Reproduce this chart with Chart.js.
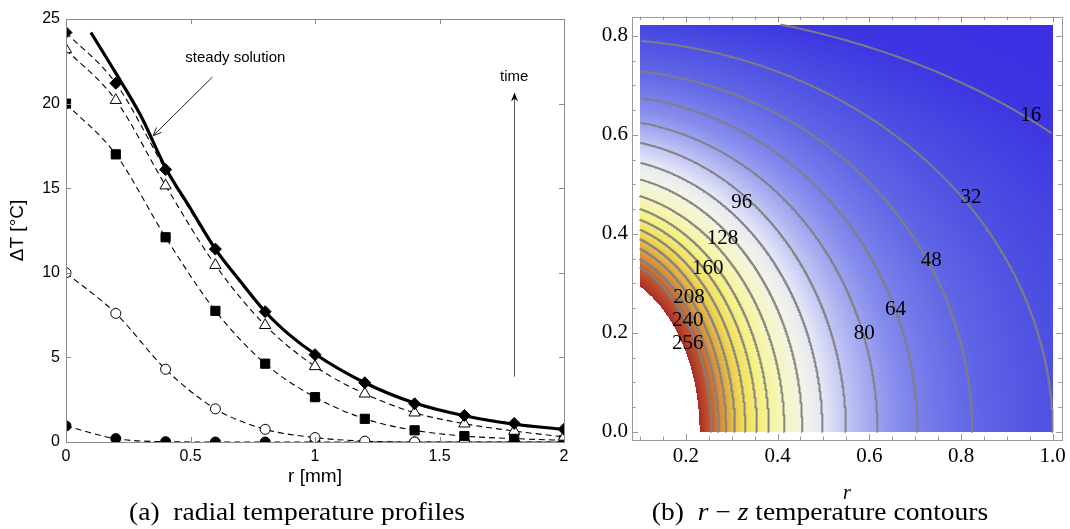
<!DOCTYPE html>
<html>
<head>
<meta charset="utf-8">
<script src="https://cdn.jsdelivr.net/npm/chart.js@4.4.0/dist/chart.umd.min.js"></script>
<style>
    body { margin: 0; background: #fff; width: 1070px; height: 529px; position: relative; overflow: hidden; }
    #graficoA { position: absolute; left: 0; top: 0; }
    #graficoB { position: absolute; left: 580px; top: 0; }
    .legenda {
        position: absolute; top: 499px; white-space: nowrap; line-height: 1;
        font-family: "Liberation Serif", "Times New Roman", serif; font-size: 25px;
        transform: translateX(-50%) scaleX(1.1);
    }
</style>
</head>
<body>
<canvas id="graficoA" width="580" height="529"></canvas>
<canvas id="graficoB" width="490" height="529"></canvas>
<div class="legenda" style="left:297px">(a)&nbsp; radial temperature profiles</div>
<div class="legenda" style="left:820px">(b)&nbsp; <i>r</i> − <i>z</i> temperature contours</div>

<script>
// ---- (a) perfis radiais ----
const raio = [0, 0.2, 0.4, 0.6, 0.8, 1.0, 1.2, 1.4, 1.6, 1.8, 2.0];
const perfilDiamante = [24.2, 21.2, 16.1, 11.4, 7.7, 5.16, 3.5, 2.26, 1.57, 1.1, 0.75];
const perfilTriangulo = [23.2, 20.2, 15.15, 10.45, 6.9, 4.47, 2.85, 1.73, 1.08, 0.65, 0.3];
const perfilQuadrado = [20.0, 17.0, 12.1, 7.75, 4.63, 2.65, 1.37, 0.69, 0.35, 0.2, 0.1];
const perfilCirculo = [10.0, 7.6, 4.3, 1.96, 0.75, 0.26, 0.05, 0, 0, 0, 0];
const perfilInicial = [0.95, 0.2, 0.02, 0, 0, 0, 0, 0, 0, 0, 0];

const raioEstacionario = [0.1, 0.2, 0.3, 0.4, 0.5, 0.6, 0.7, 0.8, 0.9, 1.0, 1.2, 1.4, 1.6, 1.8, 2.0];
const solucaoEstacionaria = [24.2, 21.8, 19.3, 16.2, 13.8, 11.4, 9.5, 7.7, 6.3, 5.2, 3.5, 2.3, 1.55, 1.05, 0.75];

// ---- (b) contornos r-z ----
const niveis = [16, 32, 48, 64, 80, 96, 112, 128, 144, 160, 176, 192, 208, 224, 240, 256];
// semi-eixos de cada isoterma (em r sobre z=0 e em z sobre r=0)
const semiEixoR = [1.40, 1.0, 0.825, 0.705, 0.618, 0.549, 0.498, 0.454, 0.415, 0.381, 0.355, 0.330, 0.307, 0.288, 0.272, 0.256];
const semiEixoZ = [0.86, 0.794, 0.734, 0.682, 0.633, 0.594, 0.555, 0.523, 0.491, 0.467, 0.447, 0.429, 0.412, 0.395, 0.376, 0.362];
const nivelLimite = 272;   // acima disso a regiao fica em branco
const limiteR = 0.23;
const limiteZ = 0.326;

const rotulos = ['16', '32', '48', '64', '80', '96', '128', '160', '208', '240', '256'];
const rotuloR = [0.952, 0.822, 0.735, 0.657, 0.589, 0.322, 0.280, 0.248, 0.207, 0.204, 0.204];
const rotuloZ = [0.639, 0.473, 0.346, 0.247, 0.198, 0.463, 0.390, 0.330, 0.272, 0.225, 0.178];

const ticksR = [0.2, 0.4, 0.6, 0.8, 1.0];
const ticksZ = [0.0, 0.2, 0.4, 0.6, 0.8];

// escala de cores (temperatura -> rgb)
const coresNivel = [10, 30, 50, 70, 90, 110, 125, 145, 170, 195, 215, 240, 260, 275];
const coresRGB = [
    [56, 44, 226], [76, 78, 226], [100, 106, 230], [132, 138, 236], [180, 185, 242],
    [228, 230, 246], [242, 243, 232], [246, 246, 190], [245, 240, 130], [240, 220, 90],
    [226, 180, 70], [210, 130, 56], [188, 80, 46], [165, 35, 35]
];

const dominio = { rMin: 0.1, rMax: 1.0, zMin: 0, zMax: 0.823 };

const fonteSans = '"Liberation Sans", Arial, sans-serif';
const fonteSerif = '"Liberation Serif", "Times New Roman", serif';

function pares(xs, ys) {
    return xs.map((x, i) => ({ x: x, y: ys[i] }));
}

function serie(valores, estilo, fundo, raioPonto) {
    return {
        data: pares(raio, valores),
        borderColor: '#000',
        borderWidth: 1.1,
        borderDash: [6, 4],
        cubicInterpolationMode: 'monotone',
        pointStyle: estilo,
        pointRadius: raioPonto,
        pointBackgroundColor: fundo,
        pointBorderColor: '#000',
        pointBorderWidth: 1
    };
}

// moldura com ticks para dentro nos quatro lados
function moldura(cor, tamMaior, tamMenor, passoMenorX, passoMenorY) {
    return {
        id: 'moldura',
        afterDraw(chart) {
            const { ctx, chartArea: a, scales: { x, y } } = chart;
            ctx.save();
            ctx.strokeStyle = cor;
            ctx.lineWidth = 1;
            ctx.strokeRect(Math.round(a.left) + 0.5, Math.round(a.top) + 0.5,
                Math.round(a.right - a.left), Math.round(a.bottom - a.top));
            ctx.beginPath();
            const marca = (v, tam, eixo) => {
                if (eixo === 'x') {
                    const px = Math.round(x.getPixelForValue(v)) + 0.5;
                    ctx.moveTo(px, a.bottom); ctx.lineTo(px, a.bottom - tam);
                    ctx.moveTo(px, a.top); ctx.lineTo(px, a.top + tam);
                } else {
                    const py = Math.round(y.getPixelForValue(v)) + 0.5;
                    ctx.moveTo(a.left, py); ctx.lineTo(a.left + tam, py);
                    ctx.moveTo(a.right, py); ctx.lineTo(a.right - tam, py);
                }
            };
            x.ticks.forEach(t => marca(t.value, tamMaior, 'x'));
            y.ticks.forEach(t => marca(t.value, tamMaior, 'y'));
            if (passoMenorX) {
                for (let v = Math.ceil(x.min / passoMenorX) * passoMenorX; v <= x.max; v += passoMenorX) marca(v, tamMenor, 'x');
            }
            if (passoMenorY) {
                for (let v = Math.ceil(y.min / passoMenorY) * passoMenorY; v <= y.max; v += passoMenorY) marca(v, tamMenor, 'y');
            }
            ctx.stroke();
            ctx.restore();
        }
    };
}

const anotacoesA = {
    id: 'anotacoesA',
    afterDatasetsDraw(chart) {
        const { ctx, scales: { x, y } } = chart;
        const px = v => x.getPixelForValue(v);
        const py = v => y.getPixelForValue(v);
        ctx.save();
        ctx.fillStyle = '#000';
        ctx.font = '15px ' + fonteSans;
        ctx.textAlign = 'center';
        ctx.textBaseline = 'middle';
        ctx.fillText('steady solution', px(0.68), py(22.7));
        ctx.fillText('time', px(1.8), py(21.6));

        // seta da solucao estacionaria
        const x1 = px(0.588), y1 = py(21.57), x2 = px(0.35), y2 = py(18.1);
        const ang = Math.atan2(y2 - y1, x2 - x1);
        ctx.strokeStyle = '#222';
        ctx.lineWidth = 1;
        ctx.beginPath();
        ctx.moveTo(x1, y1); ctx.lineTo(x2, y2);
        ctx.moveTo(x2 - 9 * Math.cos(ang - 0.4), y2 - 9 * Math.sin(ang - 0.4));
        ctx.lineTo(x2, y2);
        ctx.lineTo(x2 - 9 * Math.cos(ang + 0.4), y2 - 9 * Math.sin(ang + 0.4));
        ctx.stroke();

        // seta do tempo
        const tx = Math.round(px(1.8)) + 0.5;
        ctx.strokeStyle = '#555';
        ctx.beginPath();
        ctx.moveTo(tx, py(3.86)); ctx.lineTo(tx, py(20.3));
        ctx.stroke();
        ctx.fillStyle = '#000';
        ctx.beginPath();
        ctx.moveTo(tx, py(20.65));
        ctx.lineTo(tx - 3.5, py(20.65) + 9);
        ctx.lineTo(tx, py(20.65) + 6);
        ctx.lineTo(tx + 3.5, py(20.65) + 9);
        ctx.closePath();
        ctx.fill();
        ctx.restore();
    }
};

new Chart(document.getElementById('graficoA'), {
    type: 'line',
    data: {
        datasets: [
            {
                data: pares(raioEstacionario, solucaoEstacionaria),
                borderColor: '#000',
                borderWidth: 3.2,
                pointRadius: 0,
                cubicInterpolationMode: 'monotone'
            },
            serie(perfilDiamante, 'rectRot', '#000', 6),
            serie(perfilTriangulo, 'triangle', '#fff', 6.5),
            serie(perfilQuadrado, 'rect', '#000', 6.5),
            serie(perfilCirculo, 'circle', '#fff', 5),
            serie(perfilInicial, 'circle', '#000', 5)
        ]
    },
    options: {
        responsive: false,
        animation: false,
        layout: { padding: { top: 19, right: 16, bottom: 37, left: 0 } },
        plugins: { legend: { display: false }, tooltip: { enabled: false } },
        scales: {
            x: {
                type: 'linear', min: 0, max: 2,
                ticks: { stepSize: 0.5, callback: v => String(v), color: '#000', padding: 5, font: { family: fonteSans, size: 16 } },
                grid: { display: false, drawTicks: false },
                border: { display: false },
                title: { display: true, text: 'r [mm]', color: '#000', padding: { top: 8 }, font: { family: fonteSans, size: 19 } },
                afterFit(s) { s.height = 50; }
            },
            y: {
                type: 'linear', min: 0, max: 25,
                ticks: { stepSize: 5, color: '#000', padding: 6, font: { family: fonteSans, size: 16 } },
                grid: { display: false, drawTicks: false },
                border: { display: false },
                title: { display: true, text: 'ΔT [°C]', color: '#000', padding: { top: 6, bottom: 0 }, font: { family: fonteSans, size: 19 } },
                afterFit(s) { s.width = 66; }
            }
        }
    },
    plugins: [moldura('#8a8a8a', 5, 0, 0, 0), anotacoesA]
});

// ---- campo de temperatura a partir das isotermas ----
function temperatura(r, z) {
    const eixosR = semiEixoR.concat([limiteR]);
    const eixosZ = semiEixoZ.concat([limiteZ]);
    const nv = niveis.concat([nivelLimite]);
    let rhoAnterior = 0;
    for (let k = 0; k < nv.length; k++) {
        const rho = Math.sqrt((r / eixosR[k]) ** 2 + (z / eixosZ[k]) ** 2);
        if (rho >= 1) {
            if (k === 0) return nv[0] / (rho * rho);
            const f = (1 - rhoAnterior) / (rho - rhoAnterior);
            return nv[k - 1] + f * (nv[k] - nv[k - 1]);
        }
        rhoAnterior = rho;
    }
    return null;
}

function corDe(t) {
    if (t <= coresNivel[0]) return coresRGB[0];
    for (let i = 1; i < coresNivel.length; i++) {
        if (t <= coresNivel[i]) {
            const f = (t - coresNivel[i - 1]) / (coresNivel[i] - coresNivel[i - 1]);
            const a = coresRGB[i - 1], b = coresRGB[i];
            return [a[0] + f * (b[0] - a[0]), a[1] + f * (b[1] - a[1]), a[2] + f * (b[2] - a[2])];
        }
    }
    return coresRGB[coresRGB.length - 1];
}

function contorno(a, b) {
    const pts = [];
    for (let i = 0; i <= 400; i++) {
        const th = (Math.PI / 2) * i / 400;
        const r = a * Math.cos(th), z = b * Math.sin(th);
        if (r >= dominio.rMin && r <= dominio.rMax && z >= dominio.zMin && z <= dominio.zMax) pts.push({ x: r, y: z });
    }
    return pts;
}

const mapaCalor = {
    id: 'mapaCalor',
    beforeDatasetsDraw(chart) {
        const { ctx, scales: { x, y } } = chart;
        const x0 = Math.round(x.getPixelForValue(dominio.rMin));
        const x1 = Math.round(x.getPixelForValue(dominio.rMax));
        const y0 = Math.round(y.getPixelForValue(dominio.zMax));
        const y1 = Math.round(y.getPixelForValue(dominio.zMin));
        const w = x1 - x0, h = y1 - y0;
        const off = document.createElement('canvas');
        off.width = w; off.height = h;
        const octx = off.getContext('2d');
        const img = octx.createImageData(w, h);
        for (let j = 0; j < h; j++) {
            const z = y.getValueForPixel(y0 + j + 0.5);
            for (let i = 0; i < w; i++) {
                const r = x.getValueForPixel(x0 + i + 0.5);
                const t = temperatura(r, z);
                if (t === null) continue;
                const c = corDe(t);
                const p = (j * w + i) * 4;
                img.data[p] = c[0]; img.data[p + 1] = c[1]; img.data[p + 2] = c[2]; img.data[p + 3] = 255;
            }
        }
        octx.putImageData(img, 0, 0);
        ctx.drawImage(off, x0, y0);
    },
    afterDatasetsDraw(chart) {
        const { ctx, scales: { x, y } } = chart;
        ctx.save();
        ctx.fillStyle = '#000';
        ctx.font = '21px ' + fonteSerif;
        ctx.textAlign = 'center';
        ctx.textBaseline = 'middle';
        rotulos.forEach((txt, i) => {
            ctx.fillText(txt, x.getPixelForValue(rotuloR[i]), y.getPixelForValue(rotuloZ[i]));
        });
        ctx.restore();
    }
};

new Chart(document.getElementById('graficoB'), {
    type: 'scatter',
    data: {
        datasets: niveis.map((n, k) => ({
            data: contorno(semiEixoR[k], semiEixoZ[k]),
            showLine: true,
            pointRadius: 0,
            borderColor: 'rgba(128,128,128,0.95)',
            borderWidth: 2
        }))
    },
    options: {
        responsive: false,
        animation: false,
        layout: { padding: { top: 8, right: 7, bottom: 19, left: 0 } },
        plugins: { legend: { display: false }, tooltip: { enabled: false } },
        scales: {
            x: {
                type: 'linear', min: 0.0826, max: 1.0196,
                afterBuildTicks(s) { s.ticks = ticksR.map(v => ({ value: v })); },
                ticks: { callback: v => v.toFixed(1), color: '#000', padding: 4, maxRotation: 0, autoSkip: false, font: { family: fonteSerif, size: 21 } },
                grid: { display: false, drawTicks: false },
                border: { display: false },
                title: { display: true, text: 'r', color: '#000', padding: { top: 9 }, font: { family: fonteSerif, size: 20, style: 'italic' } },
                afterFit(s) { s.height = 70; }
            },
            y: {
                type: 'linear', min: -0.0164, max: 0.839,
                afterBuildTicks(s) { s.ticks = ticksZ.map(v => ({ value: v })); },
                ticks: { callback: v => v.toFixed(1), color: '#000', padding: 4, autoSkip: false, font: { family: fonteSerif, size: 21 } },
                grid: { display: false, drawTicks: false },
                border: { display: false },
                afterFit(s) { s.width = 52; }
            }
        }
    },
    plugins: [mapaCalor, moldura('#999', 6, 3.5, 0.05, 0.05)]
});
</script>
</body>
</html>
